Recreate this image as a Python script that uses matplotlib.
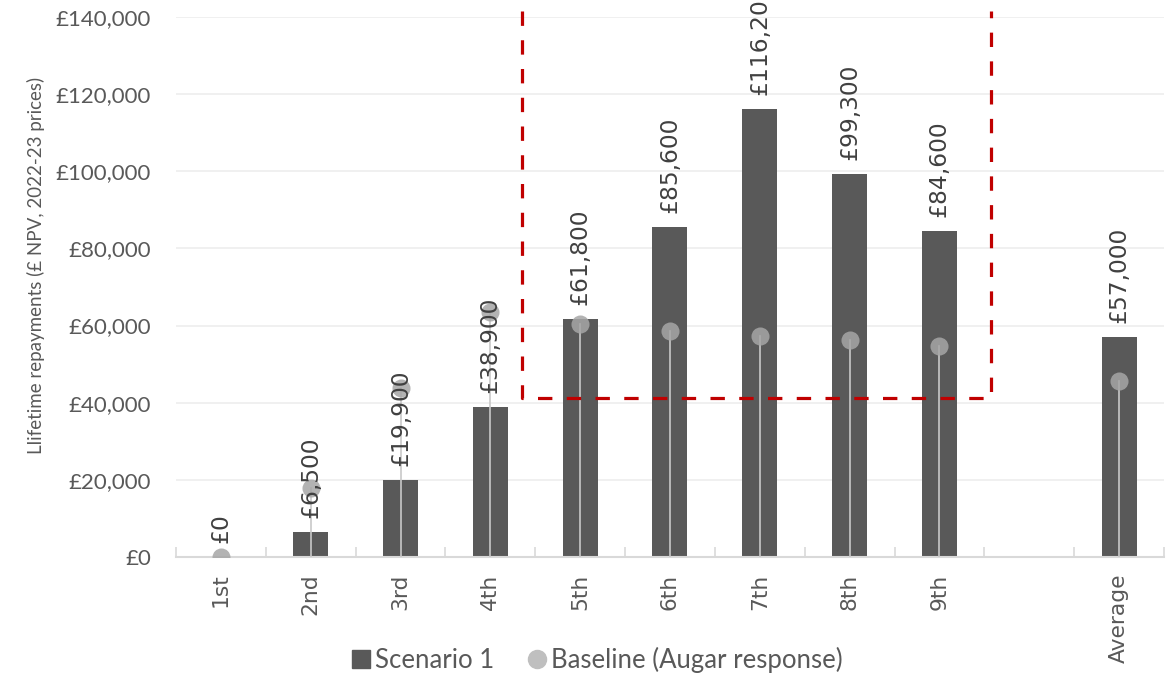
import matplotlib
matplotlib.use('Agg')
import matplotlib.pyplot as plt
from matplotlib.lines import Line2D
from matplotlib.ticker import FuncFormatter, MultipleLocator
import numpy as np

# chart data
categories = ['1st', '2nd', '3rd', '4th', '5th', '6th', '7th', '8th', '9th', '', 'Average']
scenario_1 = [0, 6500, 19900, 38900, 61800, 85600, 116200, 99300, 84600, np.nan, 57000]
baseline = [0, 17900, 43800, 63500, 60400, 58700, 57300, 56200, 54800, np.nan, 45600]

bar_color = '#595959'
dot_color = '#A6A6A6'
text_color = '#595959'

plt.rcParams['font.family'] = ['Lato', 'DejaVu Sans']

fig = plt.figure(figsize=(11.67, 6.75), dpi=100)
ax = fig.add_axes([0.1508, 0.1748, 0.8466, 0.8])

x = np.arange(len(categories))

# bars
ax.bar(x, scenario_1, width=0.39, color=bar_color, zorder=2)

# baseline lollipops
for xi, b in zip(x, baseline):
    if not np.isnan(b):
        ax.plot([xi, xi], [0, b], color='#C8C8C8', lw=1.2, zorder=3)
ax.plot(x, baseline, linestyle='none', marker='o', markersize=13,
        color=dot_color, alpha=0.85, markeredgewidth=0, zorder=4)

# data labels
for xi, v in zip(x, scenario_1):
    if not np.isnan(v):
        ax.annotate(f'£{v:,.0f}', (xi, v), xytext=(0, 10), textcoords='offset points',
                    rotation=90, ha='center', va='bottom', fontsize=16.8,
                    family='DejaVu Sans', color='#404040', zorder=6,
                    annotation_clip=False)

# red dashed box around 5th-9th
box_x = [3.353, 3.353, 8.576, 8.576]
box_y = [141500, 41200, 41200, 141500]
ax.plot(box_x, box_y, color='#C00000', lw=2.3, linestyle=(0, (4.5, 4.5)),
        clip_on=False, zorder=5)

# axes styling
ax.set_xlim(-0.5, len(categories) - 0.5)
ax.set_ylim(0, 140000)
ax.yaxis.set_major_locator(MultipleLocator(20000))
ax.yaxis.set_major_formatter(FuncFormatter(lambda v, p: f'£{v:,.0f}'))
ax.grid(axis='y', color='#EEEEEE', lw=1.2, zorder=0)
ax.set_axisbelow(True)

ax.set_xticks(x)
ax.set_xticklabels(categories, rotation=90, ha='center', va='top', family='DejaVu Sans')
ax.set_xticks(np.arange(-0.5, len(categories)), minor=True)
ax.tick_params(axis='x', which='major', length=0, pad=12, labelsize=15.7, labelcolor=text_color)
ax.tick_params(axis='x', which='minor', length=7, direction='in', color='#D9D9D9', width=1.2)
ax.tick_params(axis='y', length=0, pad=18, labelsize=16, labelcolor=text_color)

for side in ['top', 'right', 'left']:
    ax.spines[side].set_visible(False)
ax.spines['bottom'].set_color('#D9D9D9')
ax.spines['bottom'].set_linewidth(1.5)

ax.set_ylabel('Llifetime repayments (£ NPV, 2022-23 prices)', fontsize=13.5, color=text_color)
ax.yaxis.set_label_coords(-0.133, 0.54)

# legend
handles = [
    Line2D([], [], linestyle='none', marker='s', markersize=13, color=bar_color),
    Line2D([], [], linestyle='none', marker='o', markersize=13, color='#BFBFBF'),
]
fig.legend(handles, ['Scenario 1', 'Baseline (Augar response)'], loc='center',
           bbox_to_anchor=(0.511, 0.022), ncol=2, frameon=False, fontsize=18.5,
           labelcolor=text_color, handlelength=0.9, handletextpad=0.1,
           columnspacing=1.2)

plt.savefig('out.png', dpi=100)
